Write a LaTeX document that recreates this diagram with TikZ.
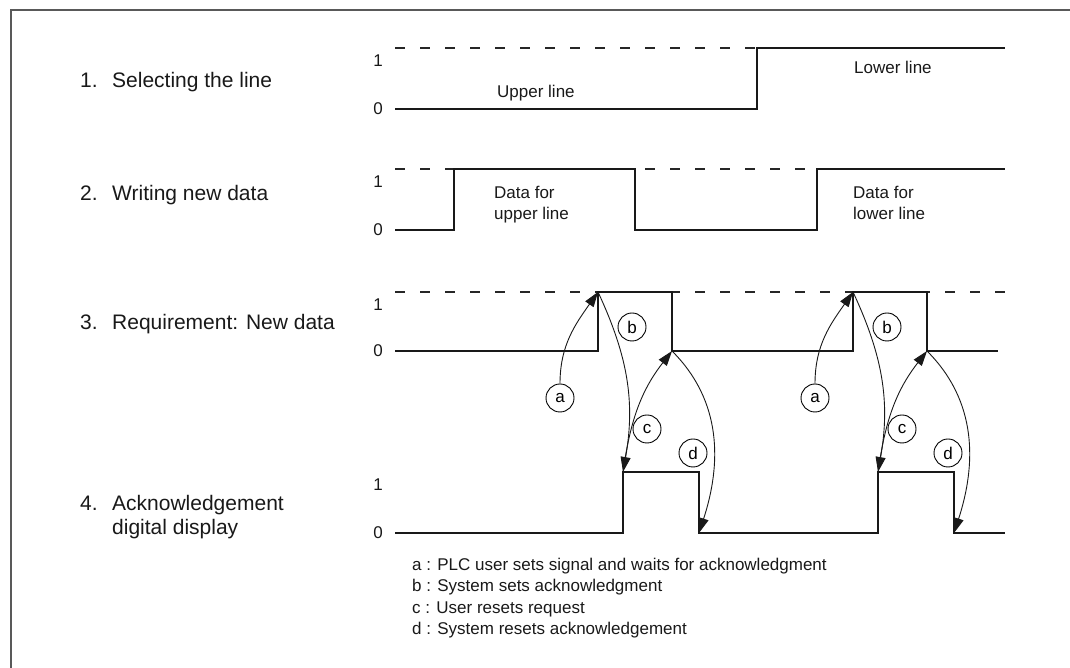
\documentclass[tikz,border=0pt]{standalone}
\usepackage{fontspec}
\setmainfont{Liberation Sans}
\usetikzlibrary{arrows.meta, positioning}

\begin{document}
\begin{tikzpicture}[x=1pt, y=1pt, line join=miter,
        sig/.style={line width=2pt, black!90},
        lvl/.style={line width=1.8pt, black!85, dash pattern=on 10pt off 15pt},
        flow/.style={line width=0.9pt, black!90, -{Triangle[length=15pt, width=10pt]}},
        tag/.style={circle, draw, line width=0.9pt, minimum size=28pt, inner sep=0pt, font=\fontsize{17}{20}\selectfont},
        small/.style={inner sep=0pt, text=black!90, font=\fontsize{17}{21}\selectfont},
        big/.style={inner sep=0pt, anchor=base west, text=black!90, font=\fontsize{21}{24}\selectfont}]
        \useasboundingbox (0,0) rectangle (1070,668);
        % Frame
        \draw[line width=2pt, black!65] (11,-20) rectangle (1100,658);

        % Row titles
        \node[big] (n1) at (80,580.5) {1.};
        \node[big] (t1) at (112,580.5) {Selecting the line};
        \node[big] (n2) at (80,467.5) {2.};
        \node[big] (t2) at (112,467.5) {Writing new data};
        \node[big] (n3) at (80,338.5) {3.};
        \node[big] (t3) at (112,338.5) {Requirement: New data};
        \node[big] (n4) at (80,157.5) {4.};
        \node[big] (t4) at (112,157.5) {Acknowledgement};
        \node[big] (t4b) at (112,133.5) {digital display};

        % Levels
        \foreach \hi/\lo [count=\i] in {620/559, 499/438, 376/317, 196/135} {
            \node[small] (one\i) at (378,\hi-13) {1};
            \node[small] (zero\i) at (378,\lo) {0};
        }
        \draw[lvl] (395,620) -- (1005,620);
        \draw[lvl] (395,499) -- (1005,499);
        \draw[lvl] (395,376) -- (1005,376);

        % Switch points
        \coordinate (up1) at (598,376);
        \coordinate (dn1) at (672,317);
        \coordinate (ackup1) at (623,196);
        \coordinate (ackdn1) at (699,135);
        \coordinate (up2) at (853,376);
        \coordinate (dn2) at (927,317);
        \coordinate (ackup2) at (878,196);
        \coordinate (ackdn2) at (954,135);

        % Signals
        \draw[sig] (395,559) -- (757,559) -- (757,620) -- (1005,620);
        \draw[sig] (395,438) -- (454,438) -- (454,499) -- (635,499) -- (635,438)
            -- (817,438) -- (817,499) -- (1005,499);
        \draw[sig] (395,317) -- (598,317) -- (up1) -- (672,376) -- (dn1)
            -- (853,317) -- (up2) -- (927,376) -- (dn2) -- (998,317);
        \draw[sig] (395,135) -- (623,135) -- (ackup1) -- (699,196) -- (ackdn1)
            -- (878,135) -- (ackup2) -- (954,196) -- (ackdn2) -- (1005,135);

        % Signal texts
        \node[small, anchor=west] (upper) at (497,575) {Upper line};
        \node[small, anchor=west] (lower) at (854,601) {Lower line};
        \node[small, anchor=north west, align=left] (dataup) at (494,482) {Data for\\upper line};
        \node[small, anchor=north west, align=left] (datalo) at (853,482) {Data for\\lower line};

        % Handshake, first cycle
        \node[tag] (a1) at (560,270) {a};
        \node[tag] (b1) at (632,341) {b};
        \node[tag] (c1) at (647,239) {c};
        \node[tag] (d1) at (693,215) {d};
        \draw[flow] (a1.north) to[out=90, in=235] (up1);
        \draw[flow] (up1) to[out=-65, in=80] (ackup1);
        \draw[flow] (ackup1) to[out=82, in=232] (dn1);
        \draw[flow] (dn1) to[out=-45, in=72] (ackdn1);

        % Handshake, second cycle
        \node[tag] (a2) at (815,270) {a};
        \node[tag] (b2) at (887,341) {b};
        \node[tag] (c2) at (902,239) {c};
        \node[tag] (d2) at (948,215) {d};
        \draw[flow] (a2.north) to[out=90, in=235] (up2);
        \draw[flow] (up2) to[out=-65, in=80] (ackup2);
        \draw[flow] (ackup2) to[out=82, in=232] (dn2);
        \draw[flow] (dn2) to[out=-45, in=72] (ackdn2);

        % Legend
        \node[small, anchor=north west, align=left, font=\fontsize{17}{21.3}\selectfont] (legend) at (412,110)
            {a : PLC user sets signal and waits for acknowledgment\\
             b : System sets acknowledgment\\
             c : User resets request\\
             d : System resets acknowledgement};
\end{tikzpicture}
\end{document}
